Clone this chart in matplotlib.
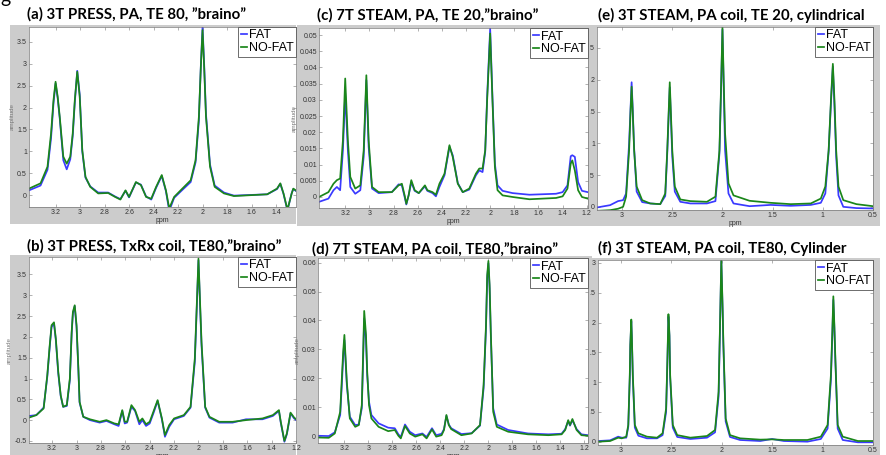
import matplotlib
matplotlib.use('Agg')
import matplotlib.pyplot as plt
from matplotlib.patches import Rectangle
from matplotlib.ticker import FuncFormatter
from matplotlib.transforms import Bbox, TransformedBbox

W, H = 887, 455

# (a) 3T PRESS, PA, TE 80
ppm_a = [3.417, 3.323, 3.266, 3.237, 3.217, 3.2, 3.183, 3.166, 3.137, 3.109, 3.08, 3.06, 3.043, 3.023,
         3.003, 2.982, 2.956, 2.917, 2.852, 2.771, 2.714, 2.671, 2.629, 2.6, 2.544, 2.503, 2.461, 2.419,
         2.379, 2.333, 2.299, 2.272, 2.232, 2.165, 2.097, 2.057, 2.03, 2.014, 2.0, 1.987, 1.972, 1.939,
         1.901, 1.825, 1.744, 1.472, 1.392, 1.365, 1.339, 1.307, 1.272, 1.259, 1.224]
fat_a = [0.11, 0.22, 0.58, 1.30, 2.10, 2.55, 2.22, 1.75, 0.80, 0.59, 0.82, 1.35, 2.12, 2.84, 2.30, 1.00,
         0.40, 0.20, 0.06, 0.06, -0.03, -0.09, 0.10, -0.05, 0.29, 0.24, -0.03, -0.10, 0.17, 0.44, 0.09,
         -0.36, -0.06, 0.12, 0.30, 0.75, 1.70, 2.95, 3.84, 3.00, 1.85, 0.70, 0.22, 0.06, -0.01, 0.02, 0.14,
         0.26, 0.03, -0.35, 0.05, 0.14, 0.07]
nofat_a = [0.15, 0.27, 0.65, 1.41, 2.17, 2.59, 2.25, 1.79, 0.88, 0.72, 0.88, 1.41, 2.17, 2.82, 2.25, 1.03,
           0.42, 0.19, 0.04, 0.05, -0.04, -0.10, 0.11, -0.04, 0.30, 0.23, -0.04, -0.08, 0.19, 0.46, 0.11,
           -0.30, -0.04, 0.15, 0.34, 0.80, 1.79, 2.93, 3.77, 2.93, 1.79, 0.65, 0.19, 0.04, -0.02, 0.02, 0.15,
           0.27, 0.04, -0.33, 0.04, 0.15, 0.08]

# (c) 7T STEAM, PA, TE 20
ppm_c = [3.417, 3.339, 3.297, 3.269, 3.242, 3.219, 3.2, 3.178, 3.158, 3.117, 3.075, 3.047, 3.025, 3.006,
         2.978, 2.923, 2.814, 2.758, 2.731, 2.708, 2.694, 2.675, 2.653, 2.625, 2.591, 2.54, 2.52, 2.477,
         2.449, 2.42, 2.378, 2.337, 2.31, 2.268, 2.227, 2.173, 2.118, 2.09, 2.063, 2.041, 2.025, 2.0, 1.981,
         1.961, 1.939, 1.897, 1.814, 1.675, 1.455, 1.4, 1.36, 1.333, 1.32, 1.299, 1.272, 1.24, 1.192]
fat_c = [-0.0015, -0.0005, 0.0021, 0.0031, 0.0021, 0.0144, 0.032, 0.0144, 0.0031, 0.001, 0.0021, 0.0124,
         0.0361, 0.0155, 0.0026, 0.0012, 0.0015, 0.0039, 0.0036, 0.0, -0.0023, 0.0005, 0.0046, 0.0019,
         0.0012, 0.0033, 0.0019, 0.0012, 0.0002, 0.0031, 0.0067, 0.0155, 0.0129, 0.0043, 0.0015, 0.0023,
         0.0067, 0.0082, 0.0077, 0.0139, 0.0309, 0.052, 0.0309, 0.0103, 0.0036, 0.0019, 0.0012, 0.0007,
         0.001, 0.0015, 0.0036, 0.0126, 0.0129, 0.0124, 0.0046, 0.0019, 0.0015]
nofat_c = [0.0, 0.0015, 0.0041, 0.0052, 0.0057, 0.0175, 0.0366, 0.0175, 0.0062, 0.0026, 0.0036, 0.0144,
           0.0376, 0.0175, 0.0031, 0.0015, 0.0015, 0.0036, 0.0041, 0.0005, -0.0021, 0.0005, 0.0052, 0.0021,
           0.0012, 0.0036, 0.0021, 0.0015, 0.0007, 0.0041, 0.0072, 0.016, 0.0124, 0.0041, 0.0015, 0.0026,
           0.0072, 0.0088, 0.0088, 0.0144, 0.0299, 0.0505, 0.0299, 0.0093, 0.0021, 0.0005, 0.0, -0.0007,
           -0.0003, 0.0002, 0.0026, 0.0103, 0.0113, 0.0082, 0.0021, 0.0, -0.0005]

# (e) 3T STEAM, PA coil, TE 20, cylindrical
ppm_e = [3.25, 3.12, 3.04, 2.99, 2.96, 2.93, 2.915, 2.905, 2.895, 2.88, 2.855, 2.80, 2.72, 2.62, 2.57,
         2.55, 2.535, 2.525, 2.515, 2.50, 2.475, 2.42, 2.32, 2.155, 2.07, 2.03, 2.013, 2.0, 1.987, 1.974,
         1.94, 1.89, 1.73, 1.52, 1.32, 1.12, 1.02, 0.975, 0.942, 0.919, 0.90, 0.884, 0.867, 0.844, 0.796,
         0.665, 0.50]
fat_e = [-0.01, 0.026, 0.09, 0.105, 0.21, 1.0, 1.58, 1.96, 1.58, 0.92, 0.24, 0.074, 0.053, 0.042, 0.17,
         0.84, 1.47, 1.88, 1.47, 0.79, 0.24, 0.079, 0.053, 0.053, 0.09, 0.84, 1.89, 2.79, 1.84, 0.89, 0.21,
         0.053, 0.01, 0.03, 0.016, 0.03, 0.063, 0.21, 0.87, 1.63, 2.21, 1.58, 0.79, 0.18, 0.0, -0.02, -0.026]
nofat_e = [-0.063, -0.053, -0.03, 0.0, 0.16, 0.89, 1.53, 1.89, 1.53, 0.89, 0.32, 0.105, 0.053, 0.042, 0.21,
           0.89, 1.53, 1.96, 1.53, 0.89, 0.32, 0.116, 0.09, 0.079, 0.16, 0.89, 1.95, 2.83, 1.95, 1.16, 0.37,
           0.18, 0.095, 0.063, 0.042, 0.053, 0.13, 0.32, 0.89, 1.68, 2.25, 1.68, 0.89, 0.32, 0.105, 0.042,
           0.01]

# (b) 3T PRESS, TxRx coil, TE80
ppm_b = [3.39, 3.33, 3.27, 3.24, 3.22, 3.205, 3.185, 3.17, 3.15, 3.13, 3.11, 3.08, 3.055, 3.04, 3.03,
         3.015, 3.0, 2.985, 2.975, 2.945, 2.89, 2.81, 2.755, 2.69, 2.655, 2.625, 2.605, 2.585, 2.55, 2.52,
         2.485, 2.46, 2.43, 2.40, 2.37, 2.335, 2.30, 2.275, 2.24, 2.20, 2.12, 2.065, 2.03, 2.015, 2.0,
         1.985, 1.975, 1.945, 1.91, 1.83, 1.72, 1.61, 1.475, 1.39, 1.34, 1.325, 1.295, 1.275, 1.245,
         1.215, 1.19]
fat_b = [0.10, 0.12, 0.30, 1.04, 1.76, 2.24, 2.32, 1.92, 1.12, 0.58, 0.32, 0.34, 0.96, 2.08, 2.56, 2.74,
         2.24, 1.20, 0.42, 0.08, 0.0, -0.06, -0.02, -0.10, -0.14, 0.22, -0.08, -0.06, 0.32, 0.22, -0.10,
         0.0, -0.14, -0.08, 0.16, 0.46, 0.02, -0.40, -0.16, 0.02, 0.10, 0.30, 1.40, 2.60, 3.84, 2.60, 1.80,
         0.30, 0.06, -0.06, -0.06, 0.02, 0.02, 0.10, 0.22, -0.06, -0.52, -0.34, 0.16, 0.04, -0.02]
nofat_b = [0.06, 0.12, 0.28, 1.08, 1.80, 2.28, 2.35, 1.96, 1.16, 0.60, 0.32, 0.36, 1.0, 2.12, 2.60, 2.76,
           2.28, 1.24, 0.44, 0.08, 0.02, -0.04, 0.0, -0.08, -0.10, 0.24, -0.04, -0.04, 0.36, 0.24, -0.04,
           0.04, -0.10, -0.04, 0.20, 0.48, 0.04, -0.36, -0.12, 0.04, 0.12, 0.32, 1.48, 2.68, 3.88, 2.68,
           1.88, 0.32, 0.08, -0.04, -0.04, 0.0, 0.04, 0.12, 0.24, -0.04, -0.50, -0.32, 0.18, 0.06, 0.0]

# (d) 7T STEAM, PA coil, TE80
ppm_d = [3.42, 3.33, 3.28, 3.235, 3.22, 3.21, 3.20, 3.19, 3.18, 3.155, 3.11, 3.08, 3.055, 3.045, 3.035,
         3.02, 3.01, 2.995, 2.975, 2.915, 2.835, 2.78, 2.75, 2.73, 2.695, 2.655, 2.61, 2.55, 2.515, 2.47,
         2.435, 2.39, 2.37, 2.35, 2.33, 2.31, 2.225, 2.14, 2.07, 2.04, 2.02, 2.01, 2.0, 1.99, 1.98, 1.96,
         1.93, 1.835, 1.67, 1.50, 1.39, 1.36, 1.335, 1.32, 1.30, 1.265, 1.225, 1.17]
fat_d = [0.0001, 0.0, 0.0013, 0.0073, 0.0188, 0.0275, 0.0332, 0.0257, 0.0177, 0.0067, 0.0038, 0.004,
         0.0096, 0.0246, 0.0407, 0.0332, 0.0211, 0.0119, 0.0073, 0.0044, 0.0029, 0.0027, 0.0006, -0.0003,
         0.004, 0.0015, 0.0003, 0.0009, -0.0003, 0.0027, 0.0003, 0.0008, 0.0024, 0.007, 0.004, 0.0027,
         0.0007, 0.001, 0.0036, 0.0165, 0.0373, 0.0546, 0.0598, 0.0511, 0.035, 0.0096, 0.004, 0.0021,
         0.0009, 0.0006, 0.0008, 0.0024, 0.0052, 0.0036, 0.0055, 0.0024, 0.0006, 0.0003]
nofat_d = [-0.0005, -0.0006, 0.0009, 0.0084, 0.0211, 0.0292, 0.035, 0.0269, 0.0188, 0.0061, 0.0032, 0.0038,
           0.0107, 0.0269, 0.0433, 0.035, 0.0223, 0.0107, 0.0061, 0.0032, 0.0017, 0.0021, 0.0001, -0.0008,
           0.0035, 0.0009, -0.0002, 0.0006, -0.0008, 0.0023, -0.0002, 0.0003, 0.0021, 0.0073, 0.0038, 0.0024,
           0.0003, 0.0009, 0.0038, 0.0177, 0.0384, 0.0557, 0.0606, 0.0523, 0.0361, 0.0084, 0.0032, 0.0015,
           0.0006, 0.0003, 0.0006, 0.0021, 0.0055, 0.0038, 0.0059, 0.0021, 0.0003, 0.0001]

# (f) 3T STEAM, PA coil, TE80, Cylinder
ppm_f = [3.22, 3.105, 3.025, 2.99, 2.945, 2.925, 2.91, 2.905, 2.895, 2.89, 2.88, 2.86, 2.825, 2.74, 2.64,
         2.585, 2.55, 2.537, 2.527, 2.517, 2.51, 2.484, 2.44, 2.31, 2.145, 2.065, 2.03, 2.016, 2.003, 1.99,
         1.983, 1.96, 1.917, 1.817, 1.617, 1.50, 1.383, 1.15, 1.017, 0.95, 0.917, 0.903, 0.893, 0.883,
         0.873, 0.85, 0.80, 0.65, 0.50]
fat_f = [0.011, 0.022, 0.084, 0.067, 0.067, 0.25, 1.07, 1.60, 2.02, 1.77, 1.07, 0.236, 0.10, 0.056, 0.056,
         0.11, 0.50, 1.35, 2.10, 1.77, 1.07, 0.236, 0.079, 0.045, 0.067, 0.157, 0.76, 1.91, 3.03, 2.19, 1.63,
         0.34, 0.079, 0.028, 0.011, 0.045, 0.011, 0.0, 0.045, 0.22, 1.04, 1.79, 2.38, 1.91, 1.35, 0.22,
         0.028, -0.011, -0.011]
nofat_f = [0.0, 0.011, 0.067, 0.056, 0.084, 0.28, 1.12, 1.63, 2.05, 1.79, 1.12, 0.28, 0.14, 0.084, 0.067,
           0.14, 0.56, 1.40, 2.14, 1.79, 1.12, 0.28, 0.11, 0.067, 0.095, 0.196, 0.84, 1.96, 3.06, 2.24, 1.68,
           0.39, 0.11, 0.056, 0.034, 0.039, 0.028, 0.028, 0.084, 0.28, 1.12, 1.85, 2.44, 1.96, 1.40, 0.28,
           0.084, 0.011, 0.011]

labels = ['FAT', 'NO-FAT']
brain_xticks = [3.2, 3.0, 2.8, 2.6, 2.4, 2.2, 2.0, 1.8, 1.6, 1.4, 1.2]
cyl_xticks = [3.0, 2.5, 2.0, 1.5, 1.0, 0.5]

# title, gray box, axes box (pixels from top-left), limits, ticks
panels = [
    dict(title='(a) 3T PRESS, PA, TE 80, \u201dbraino\u201d', tpos=(27, 14), ppm=ppm_a, fat=fat_a, nofat=nofat_a,
         gray=(10, 25, 296, 224), box=(29, 27, 296, 207), xlim=(3.417, 1.237), ylim=(-0.27, 3.84),
         xticks=brain_xticks[:-1], yticks=[0, 0.5, 1, 1.5, 2, 2.5, 3, 3.5], ylab=True),
    dict(title='(c) 7T STEAM, PA, TE 20,\u201dbraino\u201d', tpos=(317, 15), ppm=ppm_c, fat=fat_c, nofat=nofat_c,
         gray=(297, 25, 592, 226), box=(319, 28, 588, 208), xlim=(3.417, 1.19), ylim=(-0.0034, 0.0522),
         xticks=brain_xticks, yticks=[0, 0.005, 0.01, 0.015, 0.02, 0.025, 0.03, 0.035, 0.04, 0.045, 0.05],
         ylab=True),
    dict(title='(e) 3T STEAM, PA coil, TE 20, cylindrical', tpos=(598, 15), ppm=ppm_e, fat=fat_e,
         nofat=nofat_e, gray=(590, 25, 880, 226), box=(597, 27, 873, 210), xlim=(3.25, 0.5),
         ylim=(-0.05, 2.83), xticks=cyl_xticks, yticks=[0, 0.5, 1, 1.5, 2, 2.5], ylab=False, clip=590),
    dict(title='(b) 3T PRESS, TxRx coil, TE80,\u201dbraino\u201d', tpos=(27, 246), ppm=ppm_b, fat=fat_b,
         nofat=nofat_b, gray=(10, 255, 296, 455), box=(29, 257, 296, 443), xlim=(3.39, 1.203),
         ylim=(-0.55, 3.92), xticks=brain_xticks, yticks=[-0.5, 0, 0.5, 1, 1.5, 2, 2.5, 3, 3.5], ylab=True),
    dict(title='(d) 7T STEAM, PA coil, TE80,\u201dbraino\u201d', tpos=(312, 249), ppm=ppm_d, fat=fat_d,
         nofat=nofat_d, gray=(297, 256, 592, 455), box=(318, 258, 588, 443), xlim=(3.42, 1.17),
         ylim=(-0.0024, 0.0616), xticks=brain_xticks, yticks=[0, 0.01, 0.02, 0.03, 0.04, 0.05, 0.06],
         ylab=True),
    dict(title='(f) 3T STEAM, PA coil, TE80, Cylinder', tpos=(598, 248), ppm=ppm_f, fat=fat_f, nofat=nofat_f,
         gray=(590, 258, 880, 455), box=(598, 260, 873, 445), xlim=(3.225, 0.5), ylim=(-0.056, 3.05),
         xticks=cyl_xticks, yticks=[0, 0.5, 1, 1.5, 2, 2.5, 3], ylab=False, clip=590),
]


def frac(x0, y0, x1, y1):
    # pixel box measured from the top-left corner -> figure fraction
    return [x0 / W, 1 - y1 / H, (x1 - x0) / W, (y1 - y0) / H]


fig = plt.figure(figsize=(W / 100, H / 100), dpi=100)
fig.patch.set_facecolor('white')
fmt = FuncFormatter(lambda v, p: '%g' % v)

for p in panels:
    gx = frac(*p['gray'])
    fig.add_artist(Rectangle((gx[0], gx[1]), gx[2], gx[3], transform=fig.transFigure,
                             facecolor='#cccccc', edgecolor='none', zorder=-1))
    ax = fig.add_axes(frac(*p['box']))
    ax.plot(p['ppm'], p['fat'], color='#3a3aff', lw=1.25, label=labels[0])
    ax.plot(p['ppm'], p['nofat'], color='#1a861a', lw=1.25, label=labels[1])
    ax.set_xlim(*p['xlim'])
    ax.set_ylim(*p['ylim'])
    ax.set_xticks(p['xticks'])
    ax.set_yticks(p['yticks'])
    ax.xaxis.set_major_formatter(fmt)
    ax.yaxis.set_major_formatter(fmt)
    ax.tick_params(direction='in', length=2.5, width=0.4, color='#777777', labelsize=5,
                   labelcolor='#333333', pad=1.5, top=True, right=True)
    for t in ax.get_xticklabels() + ax.get_yticklabels():
        t.set_family('Liberation Sans')
    for s in ax.spines.values():
        s.set_linewidth(0.5)
        s.set_color('#777777')
    ax.set_xlabel('ppm', fontsize=5, color='#333333', labelpad=0.5, family='Liberation Sans')
    if p['ylab']:
        ax.set_ylabel('amplitude', fontsize=4.5, color='#777777', labelpad=2, family='Liberation Sans')
    if 'clip' in p:
        cb = TransformedBbox(Bbox([[p['clip'] / W, 0], [1, 1]]), fig.transFigure)
        for tk in ax.yaxis.get_major_ticks():
            tk.label1.set_clip_box(cb)
            tk.label1.set_clip_on(True)
    leg = ax.legend(loc='upper right', fontsize=9, handlelength=0.5, handletextpad=0.15,
                    borderpad=0.2, labelspacing=0.05, borderaxespad=0.0, fancybox=False,
                    framealpha=1, edgecolor='#555555', prop={'family': 'Liberation Sans', 'size': 9})
    leg.get_frame().set_linewidth(0.6)
    fig.text(p['tpos'][0] / W, 1 - p['tpos'][1] / H, p['title'], fontsize=10.8, fontweight='bold',
             family='Lato', va='center', ha='left')

# cut-off letter in the top-left corner
fig.text(0.0, 1 - 3 / H, 'g', fontsize=14, family='Lato', va='baseline', ha='left')

fig.savefig('out.png', dpi=100)
